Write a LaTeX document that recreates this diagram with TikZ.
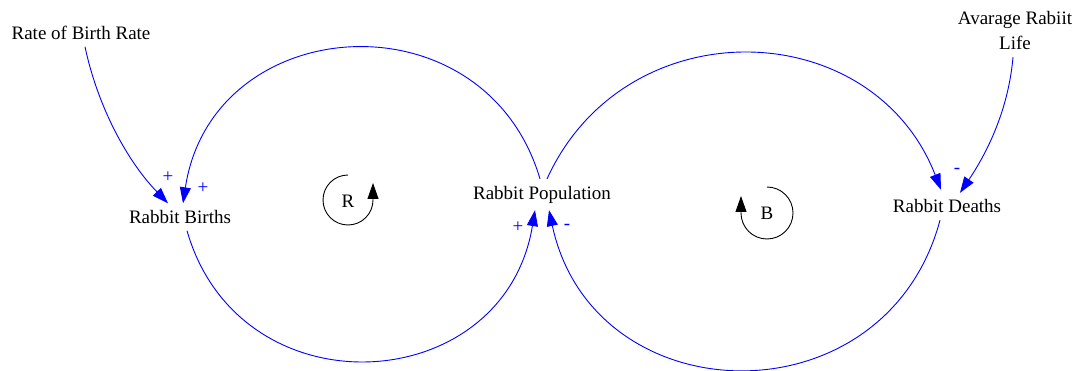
\documentclass[tikz,border=0pt]{standalone}
\usepackage{fontspec}
\setmainfont{Liberation Serif}
\usetikzlibrary{arrows.meta,positioning}

\begin{document}
\begin{tikzpicture}[x=1pt,y=1pt,
    var/.style={font=\fontsize{19}{25}\selectfont,inner sep=0pt,outer sep=7pt,align=center},
    link/.style={blue,line width=0.9pt,-{Triangle[length=16pt,width=11pt]}},
    sign/.style={blue,font=\fontsize{19}{25}\selectfont,inner sep=0pt},
    loopar/.style={black,line width=0.9pt,-{Triangle[length=16pt,width=11pt]}}]
  \useasboundingbox (0,0) rectangle (1078,-371);
  % the variables
  \node[var] (rate) at (81,-33) {Rate of Birth Rate};
  \node[var] (births) at (180,-217) {Rabbit Births};
  \node[var] (pop) at (542,-194.5) {Rabbit Population};
  \node[var] (deaths) at (947,-206.5) {Rabbit Deaths};
  \node[var] (life) at (1015,-31) {Avarage Rabiit\\Life};
  % the links
  \draw[link] ([xshift=4]rate.south) .. controls +(-78:60) and +(134:60) .. ([xshift=-12]births.north);
  \draw[link] ([xshift=-2]pop.north) .. controls +(106.5:195) and +(81.4:195) .. ([xshift=3]births.north);
  \draw[link] ([xshift=7]births.south) .. controls +(-74:191) and +(-99.3:191) .. ([xshift=-7]pop.south);
  \draw[link] ([xshift=5]pop.north) .. controls +(65.5:189) and +(111.3:189) .. ([xshift=-6,yshift=3]deaths.north);
  \draw[link] ([xshift=-7]deaths.south) .. controls +(-105:211) and +(-77.9:211) .. ([xshift=7]pop.south);
  \draw[link] ([xshift=-2]life.south) .. controls +(-95:51) and +(56:51) .. ([xshift=13]deaths.north);
  % label the polarities
  \node[sign] (s1) at (168,-177) {+};
  \node[sign] (s2) at (203,-188) {+};
  \node[sign] (s3) at (518,-227) {+};
  \node[sign] (s4) at (567,-227) {-};
  \node[sign] (s5) at (957,-171) {-};
  % the loop markers
  \node[var,outer sep=0pt] (rloop) at (348,-201) {R};
  \draw[loopar] ([yshift=26]rloop.center) arc[start angle=90,end angle=360,radius=25] -- ++(0,17);
  \node[var,outer sep=0pt] (bloop) at (767,-213) {B};
  \draw[loopar] ([yshift=26]bloop.center) arc[start angle=90,end angle=-180,radius=26] -- ++(0,17);
\end{tikzpicture}
\end{document}
